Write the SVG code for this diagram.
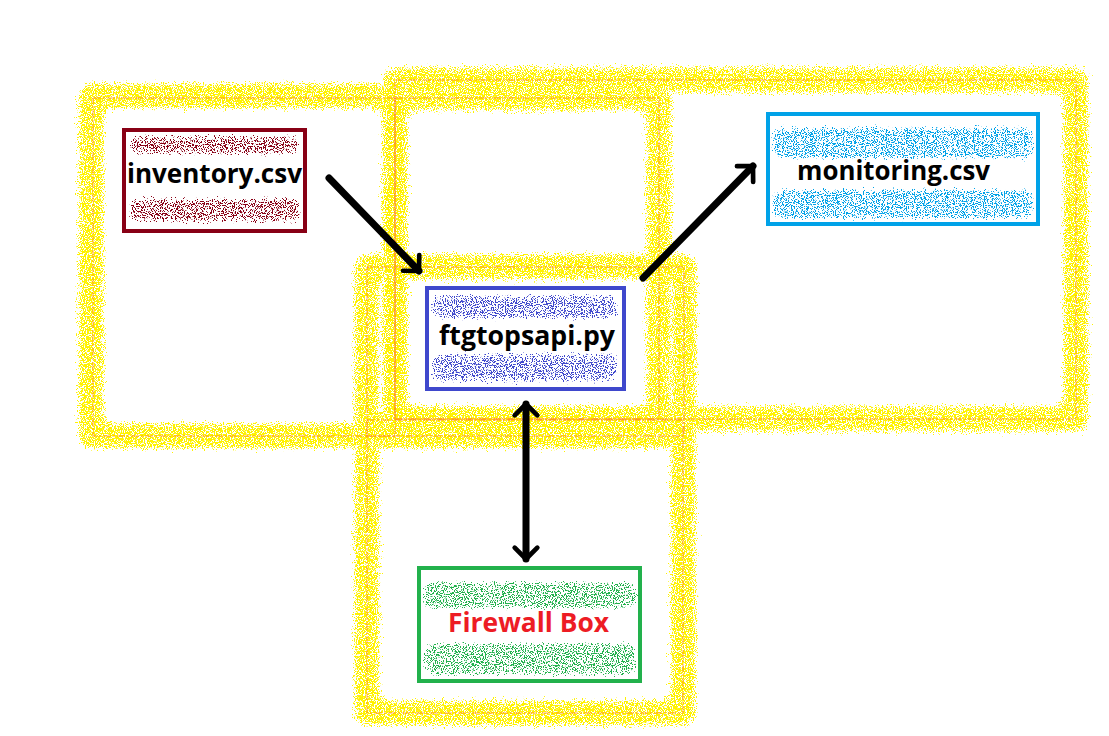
<svg xmlns="http://www.w3.org/2000/svg" width="1109" height="736" viewBox="0 0 1109 736">
<style>
.band{fill:none;stroke:#FFF200;stroke-width:32;stroke-linejoin:round;filter:url(#sprayY)}
.guide{fill:none;stroke:#FF7F27;stroke-width:1;stroke-dasharray:8 2 2 2;opacity:0.7}
.box{fill:none;stroke-width:4}
.lbl{font-family:"Open Sans","Liberation Sans",sans-serif;font-weight:700;font-size:26px;fill:#000}
.bg{fill:#fff}
</style>
<defs>
<filter id="sprayY" filterUnits="userSpaceOnUse" x="0" y="0" width="1109" height="736" color-interpolation-filters="sRGB">
 <feGaussianBlur in="SourceAlpha" stdDeviation="4" result="b"/>
 <feTurbulence type="fractalNoise" baseFrequency="0.9" numOctaves="2" seed="4" result="n"/>
 <feComposite in="b" in2="n" operator="arithmetic" k1="0" k2="0.6" k3="1" k4="-0.8" result="c"/>
 <feColorMatrix in="c" type="matrix" values="0 0 0 0 1  0 0 0 0 0.95  0 0 0 0 0  0 0 0 20 -4.6"/>
</filter>
<filter id="sprayR" filterUnits="userSpaceOnUse" x="0" y="0" width="1109" height="736" color-interpolation-filters="sRGB">
 <feGaussianBlur in="SourceAlpha" stdDeviation="3" result="b"/>
 <feTurbulence type="fractalNoise" baseFrequency="0.9" numOctaves="2" seed="11" result="n"/>
 <feComposite in="b" in2="n" operator="arithmetic" k1="0" k2="0.5" k3="1" k4="-0.75" result="c"/>
 <feColorMatrix in="c" type="matrix" values="0 0 0 0 0.533  0 0 0 0 0  0 0 0 0 0.082  0 0 0 20 -5.4"/>
</filter>
<filter id="sprayB" filterUnits="userSpaceOnUse" x="0" y="0" width="1109" height="736" color-interpolation-filters="sRGB">
 <feGaussianBlur in="SourceAlpha" stdDeviation="3" result="b"/>
 <feTurbulence type="fractalNoise" baseFrequency="0.9" numOctaves="2" seed="21" result="n"/>
 <feComposite in="b" in2="n" operator="arithmetic" k1="0" k2="0.5" k3="1" k4="-0.75" result="c"/>
 <feColorMatrix in="c" type="matrix" values="0 0 0 0 0.247  0 0 0 0 0.282  0 0 0 0 0.8  0 0 0 20 -5.4"/>
</filter>
<filter id="sprayC" filterUnits="userSpaceOnUse" x="0" y="0" width="1109" height="736" color-interpolation-filters="sRGB">
 <feGaussianBlur in="SourceAlpha" stdDeviation="3" result="b"/>
 <feTurbulence type="fractalNoise" baseFrequency="0.9" numOctaves="2" seed="31" result="n"/>
 <feComposite in="b" in2="n" operator="arithmetic" k1="0" k2="0.5" k3="1" k4="-0.75" result="c"/>
 <feColorMatrix in="c" type="matrix" values="0 0 0 0 0  0 0 0 0 0.635  0 0 0 0 0.91  0 0 0 20 -5.4"/>
</filter>
<filter id="sprayG" filterUnits="userSpaceOnUse" x="0" y="0" width="1109" height="736" color-interpolation-filters="sRGB">
 <feGaussianBlur in="SourceAlpha" stdDeviation="3" result="b"/>
 <feTurbulence type="fractalNoise" baseFrequency="0.9" numOctaves="2" seed="41" result="n"/>
 <feComposite in="b" in2="n" operator="arithmetic" k1="0" k2="0.5" k3="1" k4="-0.75" result="c"/>
 <feColorMatrix in="c" type="matrix" values="0 0 0 0 0.133  0 0 0 0 0.694  0 0 0 0 0.298  0 0 0 20 -5.4"/>
</filter>
<marker id="head" markerUnits="userSpaceOnUse" markerWidth="40" markerHeight="40" refX="0" refY="0" viewBox="-30 -30 40 60" orient="auto-start-reverse" overflow="visible">
 <path d="M-17,-17 L0,0 L-17,17" fill="none" stroke="#000" stroke-width="7" stroke-linecap="round" stroke-linejoin="round"/>
</marker>
</defs>
<rect width="1109" height="736" fill="#fff"/>

<g id="frames">
 <rect class="band" x="91" y="96" width="304" height="340"/>
 <rect class="band" x="395" y="80" width="681" height="339"/>
 <rect class="band" x="395" y="98" width="264" height="321"/>
 <rect class="band" x="367" y="267" width="317" height="169"/>
 <rect class="band" x="367" y="422" width="316" height="291"/>
 <rect class="guide" x="93" y="98" width="302" height="338"/>
 <rect class="guide" x="395" y="80" width="681" height="339"/>
 <rect class="guide" x="395" y="98" width="264" height="321"/>
 <rect class="guide" x="367" y="267" width="317" height="169"/>
 <rect class="guide" x="367" y="420" width="316" height="293"/>
</g>

<g id="inventory">
 <rect class="bg" x="124" y="130" width="181" height="101"/>
 <rect x="127" y="134" width="174" height="22" rx="10" fill="#880015" filter="url(#sprayR)"/>
 <rect x="127" y="196" width="176" height="28" rx="11" fill="#880015" filter="url(#sprayR)"/>
 <rect class="box" x="124" y="130" width="181" height="101" stroke="#880015"/>
 <text class="lbl" x="127" y="183" textLength="175" lengthAdjust="spacingAndGlyphs">inventory.csv</text>
</g>

<g id="ftgtopsapi">
 <rect class="bg" x="427" y="288" width="197" height="101"/>
 <rect x="430" y="293" width="189" height="28" rx="11" fill="#3F48CC" filter="url(#sprayB)"/>
 <rect x="430" y="352" width="189" height="32" rx="11" fill="#3F48CC" filter="url(#sprayB)"/>
 <rect class="box" x="427" y="288" width="197" height="101" stroke="#3F48CC"/>
 <text class="lbl" x="439" y="345" textLength="176" lengthAdjust="spacingAndGlyphs">ftgtopsapi.py</text>
</g>

<g id="monitoring">
 <rect class="bg" x="768" y="114" width="270" height="110"/>
 <rect x="770" y="125" width="266" height="36" rx="13" fill="#00A2E8" filter="url(#sprayC)"/>
 <rect x="770" y="187" width="266" height="34" rx="13" fill="#00A2E8" filter="url(#sprayC)"/>
 <rect class="box" x="768" y="114" width="270" height="110" stroke="#00A2E8"/>
 <text class="lbl" x="797" y="180" textLength="193" lengthAdjust="spacingAndGlyphs">monitoring.csv</text>
</g>

<g id="firewall">
 <rect class="bg" x="419" y="568" width="221" height="113"/>
 <rect x="421" y="580" width="218" height="31" rx="13" fill="#22B14C" filter="url(#sprayG)"/>
 <rect x="421" y="641" width="218" height="36" rx="13" fill="#22B14C" filter="url(#sprayG)"/>
 <rect class="box" x="419" y="568" width="221" height="113" stroke="#22B14C"/>
 <text class="lbl" x="448" y="632" textLength="161" lengthAdjust="spacingAndGlyphs" style="fill:#ED1C24">Firewall Box</text>
</g>

<g id="connectors" fill="none" stroke="#000" stroke-width="7" stroke-linecap="round">
 <path d="M329,178 L419,271" marker-end="url(#head)"/>
 <path d="M643,278 L753,166" marker-end="url(#head)"/>
 <path d="M526,404 L526,559" marker-start="url(#head)" marker-end="url(#head)"/>
</g>
</svg>
